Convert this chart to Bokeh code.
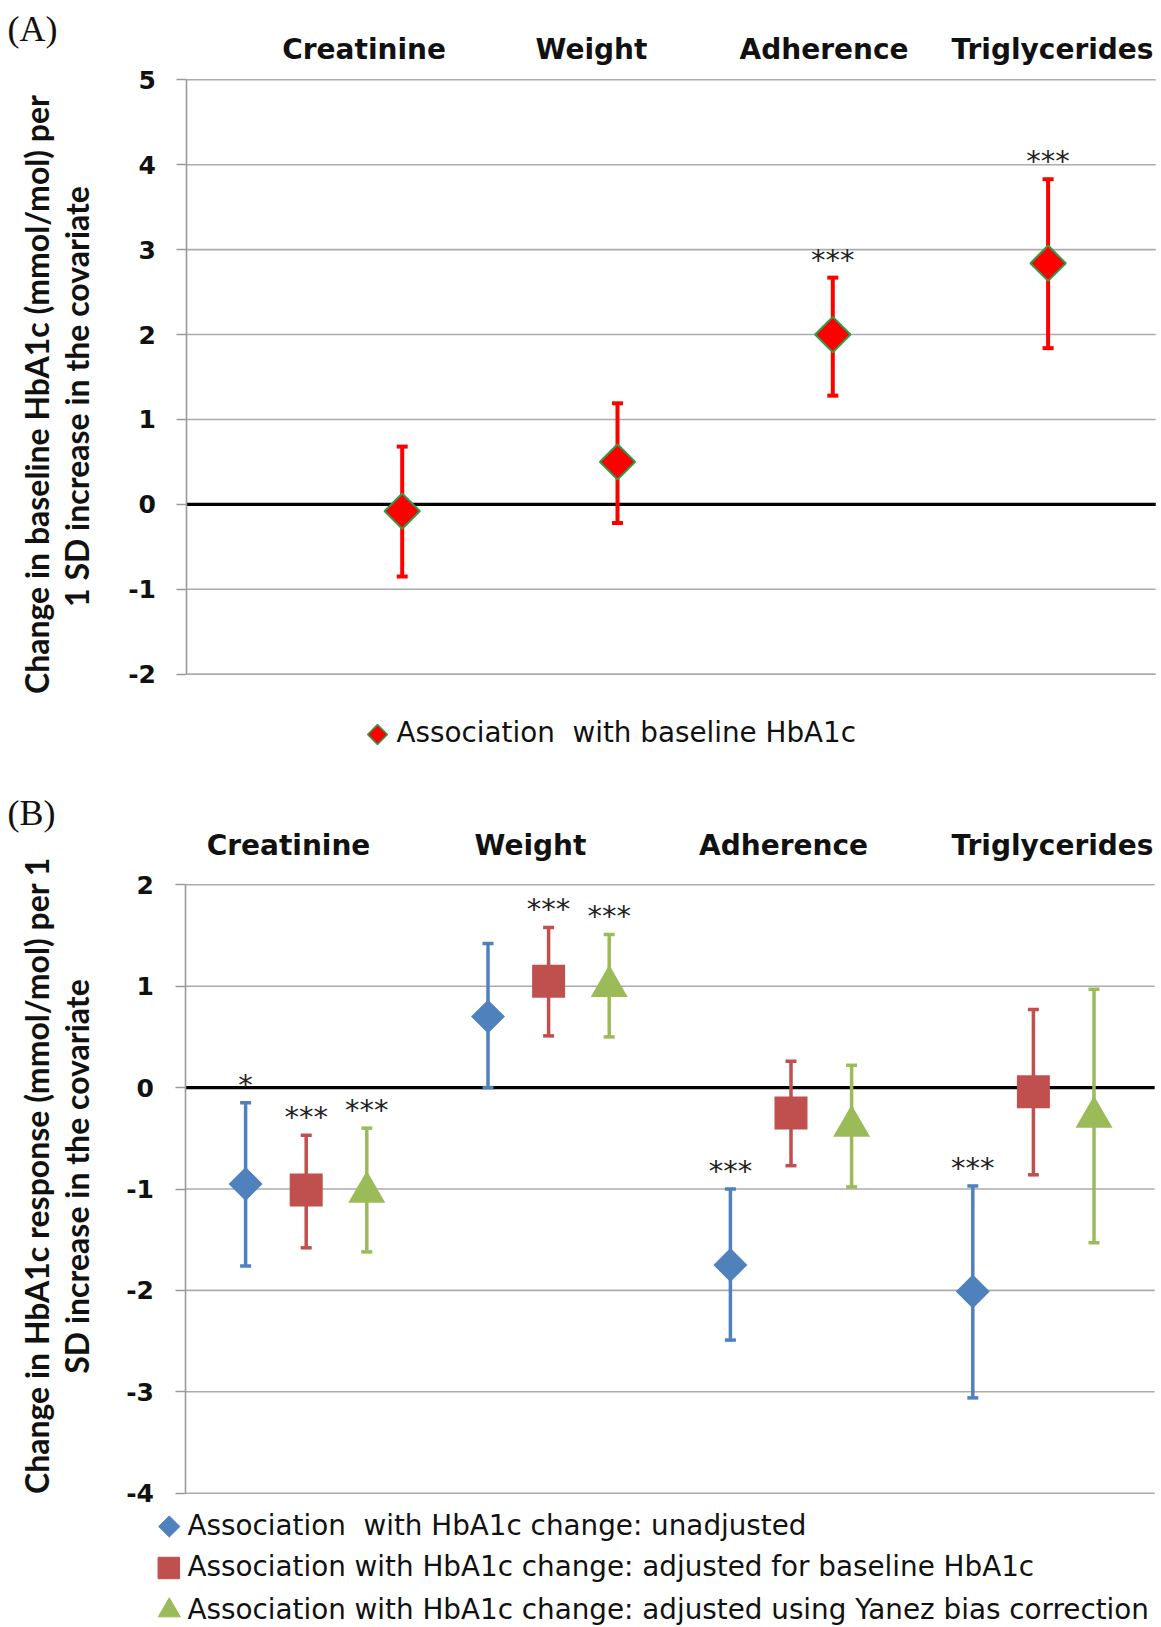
import numpy as np
from bokeh.plotting import figure
from bokeh.models import ColumnDataSource, Range1d, FixedTicker, Whisker, TeeHead, LinearAxis
from bokeh.layouts import column
from bokeh.embed import file_html
from bokeh.resources import INLINE
from bokeh.core.properties import value

# ---------------- data ----------------
categories = ["Creatinine", "Weight", "Adherence", "Triglycerides"]

# Panel A: association with baseline HbA1c
a_est = [-0.08, 0.50, 2.00, 2.84]
a_lower = [-0.85, -0.22, 1.28, 1.84]
a_upper = [0.68, 1.19, 2.67, 3.83]
a_sig = ["", "", "***", "***"]
a_yticks = [-2, -1, 0, 1, 2, 3, 4, 5]
a_legend = "Association  with baseline HbA1c"
a_ylabel = ["Change in baseline HbA1c (mmol/mol) per", "1 SD increase in the covariate"]

# Panel B: association with HbA1c change
b_unadj_est = [-0.95, 0.70, -1.75, -2.01]
b_unadj_lower = [-1.76, 0.00, -2.49, -3.06]
b_unadj_upper = [-0.15, 1.42, -1.00, -0.97]
b_unadj_sig = ["*", "", "***", "***"]

b_adjb_est = [-1.01, 1.05, -0.25, -0.04]
b_adjb_lower = [-1.58, 0.51, -0.77, -0.86]
b_adjb_upper = [-0.47, 1.58, 0.26, 0.77]
b_adjb_sig = ["***", "***", "", ""]

b_yanez_est = [-1.03, 1.00, -0.38, -0.29]
b_yanez_lower = [-1.62, 0.50, -0.98, -1.53]
b_yanez_upper = [-0.40, 1.51, 0.22, 0.97]
b_yanez_sig = ["***", "***", "", ""]

b_yticks = [-4, -3, -2, -1, 0, 1, 2]
b_legend = ["Association  with HbA1c change: unadjusted",
            "Association with HbA1c change: adjusted for baseline HbA1c",
            "Association with HbA1c change: adjusted using Yanez bias correction"]
b_ylabel = ["Change in HbA1c response (mmol/mol) per 1", "SD increase in the covariate"]

# ---------------- styles / layout (pixels) ----------------
W = 1161
SANS = "DejaVu Sans"
YLAB_FONT = "Lato"
GRID = "#ababab"
AX = "#9a9a9a"
C_BLUE, C_RED, C_GREEN = "#4f81bd", "#c0504d", "#9bbb59"
TXT = "#111111"
CAT_FS, YLAB_FS, TICK_FS, LEG_FS, STAR_FS, PANEL_FS = "28px", "32px", "25px", "27.8px", "29px", "36px"


def keep_spaces(s):
    # keep a doubled space visible in SVG text
    return s.replace("  ", " \u00a0")


class Mapper:
    """pixel <-> data mapping of a panel whose frame fills the whole figure"""
    def __init__(self, top_px, h, x0_px, px_per_x, yref, yref_px, px_per_y):
        self.top_px, self.h = top_px, h
        self.x0_px, self.kx = x0_px, px_per_x
        self.yref, self.yref_px, self.ky = yref, yref_px, px_per_y

    def x(self, px):
        return (px - self.x0_px) / self.kx

    def y(self, py):
        return self.yref - (py - self.yref_px) / self.ky


def panel(m, ymin, ymax, xmax, ticks):
    p = figure(width=W, height=m.h, output_backend="svg", toolbar_location=None,
               x_range=Range1d(m.x(0), m.x(W)),
               y_range=Range1d(m.y(m.top_px + m.h), m.y(m.top_px)),
               x_axis_location=None, y_axis_location=None, min_border=0)
    p.outline_line_color = None
    p.grid.visible = False
    # grid lines and zero line (at the tick values, from the axis to the right end)
    p.segment(x0=0, x1=xmax, y0=ticks, y1=ticks, line_color=GRID, line_width=1.6, level="image")
    p.segment(x0=[0], x1=[xmax], y0=[0], y1=[0], line_color="black", line_width=3.2, level="image")
    ax = LinearAxis(fixed_location=0, bounds=(ymin, ymax), ticker=FixedTicker(ticks=ticks))
    ax.major_label_overrides = {t: str(t) for t in ticks}
    ax.axis_line_color = AX
    ax.axis_line_width = 1.6
    ax.major_tick_line_color = AX
    ax.major_tick_line_width = 1.6
    ax.major_tick_out = 10
    ax.major_tick_in = 0
    ax.minor_tick_line_color = None
    ax.major_label_standoff = 21
    ax.major_label_text_font = SANS
    ax.major_label_text_font_style = "bold"
    ax.major_label_text_font_size = TICK_FS
    ax.major_label_text_color = TXT
    p.add_layout(ax, "left")
    return p


def texts(p, xs, ys, txt, size, font=SANS, style="normal", align="center", angle=0, color=TXT):
    p.text(x=xs, y=ys, text=txt, angle=angle, text_align=align, text_baseline="middle",
           text_font=value(font), text_font_style=style, text_font_size=size, text_color=color)


def add_series(p, xs, est, lo, hi, sig, color, marker, size, angle, lw, fill=None, outline=None, olw=0):
    src = ColumnDataSource(dict(x=xs, est=est, lower=lo, upper=hi, sig=sig))
    p.add_layout(Whisker(source=src, base="x", upper="upper", lower="lower", dimension="height",
                         line_color=color, line_width=lw, level="underlay",
                         upper_head=TeeHead(size=11, line_color=color, line_width=lw),
                         lower_head=TeeHead(size=11, line_color=color, line_width=lw)))
    p.scatter(x="x", y="est", source=src, marker=marker, size=size, angle=angle,
              fill_color=fill or color, line_color=outline or color, line_width=olw)
    p.text(x="x", y="upper", text="sig", source=src, text_align="center", text_baseline="middle",
           y_offset=-18, text_font=value("DejaVu Sans"), text_font_size=STAR_FS, text_color="#222222")


# ---------------- Panel A ----------------
mA = Mapper(top_px=0, h=770, x0_px=186.4, px_per_x=215.3, yref=5, yref_px=79.3, px_per_y=84.91)
pa = panel(mA, -2, 5, 4.5, a_yticks)
xa = [i + 1 for i in range(len(categories))]
add_series(pa, xa, a_est, a_lower, a_upper, a_sig, "#ff0000", "square", 25, np.pi / 4, 4,
           fill="#ff0000", outline="#2e9c48", olw=2)
texts(pa, [mA.x(px) for px in (363.6, 591, 823.5, 1052)], [mA.y(48.5)] * 4, categories,
      CAT_FS, style="bold")
texts(pa, [mA.x(36), mA.x(76)], [mA.y(394), mA.y(396)], a_ylabel, YLAB_FS, font=YLAB_FONT,
      style="bold", angle=np.pi / 2)
texts(pa, [mA.x(7)], [mA.y(28)], ["(A)"], PANEL_FS, font="Liberation Serif", align="left")
# legend A
pa.scatter(x=[mA.x(377)], y=[mA.y(734)], marker="square", size=14, angle=np.pi / 4,
           fill_color="#ff0000", line_color="#2e9c48", line_width=1.5)
texts(pa, [mA.x(396)], [mA.y(732)], [keep_spaces(a_legend)], LEG_FS, align="left")

# ---------------- Panel B ----------------
mB = Mapper(top_px=770, h=857, x0_px=184.5, px_per_x=242.4, yref=2, yref_px=884.3, px_per_y=101.4)
pb = panel(mB, -4, 2, len(categories), b_yticks)
centers = np.arange(len(categories)) + 0.5
add_series(pb, list(centers - 0.25), b_unadj_est, b_unadj_lower, b_unadj_upper, b_unadj_sig,
           C_BLUE, "square", 24, np.pi / 4, 3.5)
add_series(pb, list(centers), b_adjb_est, b_adjb_lower, b_adjb_upper, b_adjb_sig,
           C_RED, "square", 33, 0, 3.5)
add_series(pb, list(centers + 0.25), b_yanez_est, b_yanez_lower, b_yanez_upper, b_yanez_sig,
           C_GREEN, "triangle", 37, 0, 3.5)
texts(pb, [mB.x(px) for px in (288, 530, 783, 1052)], [mB.y(844.5)] * 4, categories,
      CAT_FS, style="bold")
texts(pb, [mB.x(36), mB.x(76)], [mB.y(1175), mB.y(1176)], b_ylabel, YLAB_FS, font=YLAB_FONT,
      style="bold", angle=np.pi / 2)
texts(pb, [mB.x(7)], [mB.y(812)], ["(B)"], PANEL_FS, font="Liberation Serif", align="left")
# legend B
rows_px = [1526, 1567.5, 1610]
pb.scatter(x=[mB.x(168.8)], y=[mB.y(rows_px[0])], marker="square", size=15, angle=np.pi / 4,
           fill_color=C_BLUE, line_color=C_BLUE)
pb.scatter(x=[mB.x(168.3)], y=[mB.y(rows_px[1])], marker="square", size=21.5,
           fill_color=C_RED, line_color=C_RED)
pb.scatter(x=[mB.x(168.8)], y=[mB.y(rows_px[2])], marker="triangle", size=22,
           fill_color=C_GREEN, line_color=C_GREEN)
texts(pb, [mB.x(187)] * 3, [mB.y(r - 1.5) for r in rows_px], [keep_spaces(t) for t in b_legend],
      LEG_FS, align="left")

layout = column(pa, pb, spacing=0)
open("out.html", "w").write(file_html(layout, INLINE))
